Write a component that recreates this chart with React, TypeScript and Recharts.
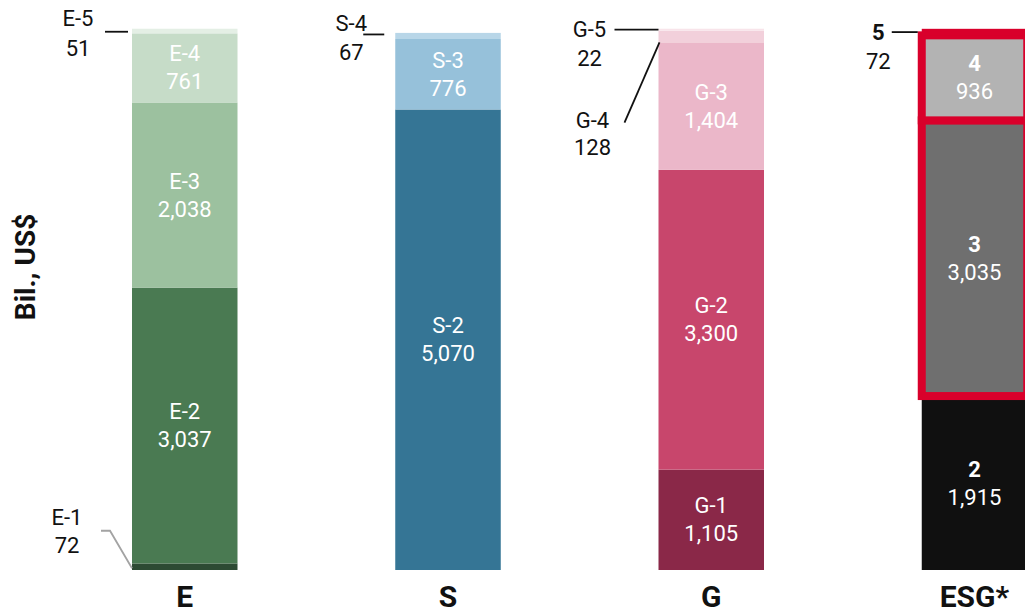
import { BarChart, Bar, XAxis, YAxis } from 'recharts';

// Stacked levels, one value per category (bottom level first)
const categories = ['E', 'S', 'G', 'ESG*'];
const level1 = [72, 0, 1105, 0];
const level2 = [3037, 5070, 3300, 1915];
const level3 = [2038, 776, 1404, 3035];
const level4 = [761, 67, 128, 936];
const level5 = [51, 0, 22, 72];
const levels = [level1, level2, level3, level4, level5];

const segmentNames = [
  ['E-1', 'E-2', 'E-3', 'E-4', 'E-5'],
  ['S-1', 'S-2', 'S-3', 'S-4', 'S-5'],
  ['G-1', 'G-2', 'G-3', 'G-4', 'G-5'],
  ['1', '2', '3', '4', '5'],
];

const palettes = [
  ['#2d4a33', '#4a7a52', '#9cc19f', '#c6dcc8', '#e4efe5'],
  ['#1f4f6b', '#357595', '#96c1da', '#b8d6e8', '#dfecf4'],
  ['#8a2848', '#c8466c', '#ebb7c9', '#f2d0db', '#f8e4ea'],
  ['#000000', '#101010', '#6f6f6f', '#b3b3b3', '#d9002b'],
];

const FRAME_RED = '#d9002b';
const FONT = 'Roboto, "Noto Sans", sans-serif';
const INK = '#111111';

const data = categories.map((name, idx) => ({
  name,
  idx,
  l1: level1[idx],
  l2: level2[idx],
  l3: level3[idx],
  l4: level4[idx],
  l5: level5[idx],
}));

// Small segments get their label outside the bar with a leader line.
// bx = bar left, cy = segment centre, sb = segment bottom.
type Callout = {
  tx: number;
  nameY: number;
  valueY: number;
  line: (bx: number, cy: number, sb: number) => [number, number][];
  stroke: string;
};

const callouts: Record<string, Callout> = {
  'E-5': {
    tx: -54, nameY: -12.5, valueY: 17, stroke: '#111',
    line: (bx, cy) => [[bx - 27, cy + 0.7], [bx - 4, cy + 0.7]],
  },
  'E-1': {
    tx: -65, nameY: -49, valueY: -21, stroke: '#a3a3a3',
    line: (bx, cy) => [[bx - 31, cy - 36], [bx - 22, cy - 36], [bx, cy + 1.5]],
  },
  'S-4': {
    tx: -44, nameY: -12, valueY: 17, stroke: '#111',
    line: (bx, cy) => [[bx - 32, cy - 1.5], [bx - 11, cy - 1.5]],
  },
  'G-5': {
    tx: -69, nameY: 0, valueY: 29, stroke: '#111',
    line: (bx, cy) => [[bx - 44, cy], [bx, cy]],
  },
  'G-4': {
    tx: -66, nameY: 84, valueY: 111, stroke: '#111',
    line: (bx, cy, sb) => [[bx - 34, cy + 86], [bx + 1, sb]],
  },
  '5': {
    tx: -43.5, nameY: 0.6, valueY: 29, stroke: '#111',
    line: (bx, cy) => [[bx - 30, cy], [bx - 4, cy]],
  },
};

const fmt = (v: number) => v.toLocaleString('en-US');

function Segment(props: any) {
  const { x, y, width, height, payload, level } = props;
  const cat: number = payload.idx;
  const value: number = levels[level][cat];
  if (!value || !height) return <g />;

  const name = segmentNames[cat][level];
  const fill = palettes[cat][level];
  const isEsg = cat === 3;
  const framed = isEsg && (level === 2 || level === 3);
  const cx = x + width / 2;
  const cy = y + height / 2;
  const callout = callouts[name];

  return (
    <g>
      <rect
        x={x}
        y={y}
        width={width}
        height={height}
        fill={fill}
        stroke={framed ? FRAME_RED : 'none'}
        strokeWidth={framed ? 8 : 0}
      />
      {callout ? (
        <g fontFamily={FONT} fontSize={22} fill={INK} textAnchor="middle">
          <polyline
            points={callout.line(x, cy, y + height).map((p) => p.join(',')).join(' ')}
            fill="none"
            stroke={callout.stroke}
            strokeWidth={1.8}
          />
          <text x={x + callout.tx} y={cy + callout.nameY} dominantBaseline="central" fontWeight={isEsg ? 700 : 400}>
            {name}
          </text>
          <text x={x + callout.tx} y={cy + callout.valueY} dominantBaseline="central">
            {fmt(value)}
          </text>
        </g>
      ) : (
        <g fontFamily={FONT} fontSize={22} fill="#ffffff" textAnchor="middle">
          <text x={cx} y={cy - 14} dominantBaseline="central" fontWeight={isEsg ? 700 : 400}>
            {name}
          </text>
          <text x={cx} y={cy + 14} dominantBaseline="central">
            {fmt(value)}
          </text>
        </g>
      )}
    </g>
  );
}

function CategoryTick(props: any) {
  const { x, y, payload } = props;
  return (
    <text
      x={x}
      y={y + 18}
      textAnchor="middle"
      dominantBaseline="central"
      fontFamily={FONT}
      fontSize={30}
      fontWeight={700}
      fill={INK}
    >
      {payload.value}
    </text>
  );
}

const seriesKeys = ['l1', 'l2', 'l3', 'l4', 'l5'];

export default function App() {
  return (
    <div
      style={{
        position: 'absolute',
        left: 0,
        top: 0,
        width: 1025,
        height: 611,
        overflow: 'hidden',
        background: '#ffffff',
      }}
    >
      <BarChart
        width={1106}
        height={611}
        data={data}
        margin={{ top: 25, right: 0, bottom: 11, left: 53 }}
        barSize={105.5}
      >
        <XAxis
          dataKey="name"
          height={30}
          axisLine={false}
          tickLine={false}
          tickSize={6}
          tickMargin={2}
          interval={0}
          tick={<CategoryTick />}
        />
        <YAxis hide domain={[0, 6000]} />
        {seriesKeys.map((key, level) => (
          <Bar
            key={key}
            dataKey={key}
            stackId="levels"
            isAnimationActive={false}
            shape={(p: any) => <Segment {...p} level={level} />}
          />
        ))}
      </BarChart>
      <div
        style={{
          position: 'absolute',
          left: 25,
          top: 267,
          transform: 'translate(-50%, -50%) rotate(-90deg)',
          whiteSpace: 'nowrap',
          fontFamily: FONT,
          fontSize: 28,
          fontWeight: 700,
          color: INK,
        }}
      >
        Bil., US$
      </div>
    </div>
  );
}
